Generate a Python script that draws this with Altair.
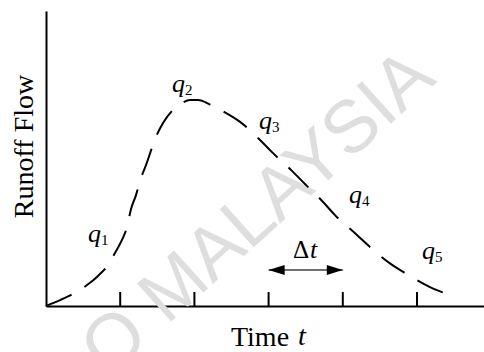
import altair as alt
import pandas as pd

# Hydrograph ordinates: time in units of the interval Δt, flow as % of axis height
time_vals = [0.0, 0.189, 0.364, 0.553, 0.701, 0.836, 0.943, 1.024, 1.092, 1.146,
             1.213, 1.267, 1.348, 1.482, 1.577, 1.698, 1.833, 1.941, 2.049, 2.224,
             2.399, 2.615, 2.871, 3.032, 3.315, 3.477, 3.747, 3.895, 4.191, 4.353,
             4.650, 4.838, 5.175, 5.377, 5.526]
flow_vals = [0.0, 2.0, 4.1, 7.1, 10.2, 13.9, 18.6, 22.4, 26.8, 32.9,
             37.6, 42.4, 47.8, 57.3, 62.0, 66.1, 68.8, 69.8, 69.8, 68.1,
             65.8, 62.4, 56.6, 52.5, 45.8, 41.7, 34.9, 30.8, 24.1, 20.3,
             14.2, 11.2, 6.4, 4.4, 3.6]

# Time steps marked on the axis
tick_times = [1, 2, 3, 4, 5]

# Ordinate labels q1..q5 and where they sit
q_index = ["1", "2", "3", "4", "5"]
q_time = [0.566, 1.698, 2.871, 4.084, 5.067]
q_flow = [21.7, 72.5, 60.0, 34.9, 15.9]

# Δt interval between two ticks
dt_start, dt_end, dt_level = 3, 4, 12.2

X_DOMAIN = [0, 5.903]
Y_DOMAIN = [0, 100]
SERIF = "Liberation Serif"

curve_df = pd.DataFrame({"t": time_vals, "q": flow_vals})
tick_df = pd.DataFrame({"t": tick_times, "lo": 0.0, "hi": 4.75})
lab_df = pd.DataFrame({"t": q_time, "q": q_flow, "name": ["q"] * 5, "sub": q_index})

xs = alt.Scale(domain=X_DOMAIN, nice=False, zero=False)
ys = alt.Scale(domain=Y_DOMAIN, nice=False, zero=False)

x_axis = alt.Axis(domain=True, domainColor="black", domainWidth=2, ticks=False,
                  labels=False, grid=False, title="Time", titleFont=SERIF,
                  titleFontSize=28, titleFontWeight="normal", titleColor="black",
                  titleX=213.5, titleY=39, titleBaseline="alphabetic")
y_axis = alt.Axis(domain=True, domainColor="black", domainWidth=2, ticks=False,
                  labels=False, grid=False, title="Runoff Flow", titleFont=SERIF,
                  titleFontSize=28, titleFontWeight="normal", titleColor="black",
                  titleX=-21.5, titleY=135, titleBaseline="middle", titleAngle=270)

base = alt.Chart(curve_df)

# faint diagonal watermark behind the drawing
watermark = alt.Chart(pd.DataFrame({"t": [2.864], "q": [31.4], "w": ["O MALAYSIA"]})).mark_text(
    font="Liberation Sans", fontSize=74, color="#dedede",
    angle=318, align="center", baseline="middle"
).encode(x=alt.X("t:Q", scale=xs, axis=x_axis), y=alt.Y("q:Q", scale=ys, axis=y_axis), text="w:N")

curve = base.mark_line(color="black", strokeWidth=2, strokeDash=[28, 15],
                       interpolate="monotone", strokeCap="butt").encode(
    x=alt.X("t:Q", scale=xs, axis=x_axis), y=alt.Y("q:Q", scale=ys, axis=y_axis))

ticks = alt.Chart(tick_df).mark_rule(color="black", strokeWidth=2).encode(
    x=alt.X("t:Q", scale=xs), y=alt.Y("lo:Q", scale=ys), y2="hi:Q")

q_text = alt.Chart(lab_df).mark_text(font=SERIF, fontSize=26, fontStyle="italic",
                                     align="left", baseline="alphabetic", color="black").encode(
    x=alt.X("t:Q", scale=xs), y=alt.Y("q:Q", scale=ys), text="name:N")
q_sub = alt.Chart(lab_df).mark_text(font=SERIF, fontSize=15, align="left",
                                    baseline="alphabetic", dx=13, dy=3, color="black").encode(
    x=alt.X("t:Q", scale=xs), y=alt.Y("q:Q", scale=ys), text="sub:N")

shaft = alt.Chart(pd.DataFrame({"a": [dt_start], "b": [dt_end], "y": [dt_level]})).mark_rule(
    color="#707070", strokeWidth=2).encode(
    x=alt.X("a:Q", scale=xs), x2="b:Q", y=alt.Y("y:Q", scale=ys))

head_df = pd.DataFrame({"t": [dt_start, dt_end], "y": [dt_level, dt_level],
                        "side": ["left", "right"]})
heads = alt.Chart(head_df).mark_point(filled=True, size=256, opacity=1, strokeWidth=0,
                                      color="black").encode(
    x=alt.X("t:Q", scale=xs), y=alt.Y("y:Q", scale=ys),
    shape=alt.Shape("side:N", scale=alt.Scale(
        domain=["left", "right"],
        range=["M0,0L2,-0.62L2,0.62Z", "M0,0L-2,-0.62L-2,0.62Z"]), legend=None))

delta = alt.Chart(pd.DataFrame({"t": [3.329], "y": [16.3], "s": ["Δ"]})).mark_text(
    font=SERIF, fontSize=25, align="left", baseline="alphabetic", color="black").encode(
    x=alt.X("t:Q", scale=xs), y=alt.Y("y:Q", scale=ys), text="s:N")
delta_t = alt.Chart(pd.DataFrame({"t": [3.558], "y": [16.3], "s": ["t"]})).mark_text(
    font=SERIF, fontSize=26, fontStyle="italic", align="left", baseline="alphabetic",
    color="black").encode(
    x=alt.X("t:Q", scale=xs), y=alt.Y("y:Q", scale=ys), text="s:N")

# italic t that follows the x axis title
time_t = alt.Chart(pd.DataFrame({"t": [3.396], "y": [-13.2], "s": ["t"]})).mark_text(
    font=SERIF, fontSize=28, fontStyle="italic", align="left", baseline="alphabetic",
    color="black").encode(
    x=alt.X("t:Q", scale=xs), y=alt.Y("y:Q", scale=ys), text="s:N")

chart = alt.layer(watermark, curve, ticks, shaft, heads, q_text, q_sub, delta, delta_t, time_t).properties(
    width=438, height=295,
    padding={"left": 46, "top": 11, "right": 0, "bottom": 46},
    autosize=alt.AutoSizeParams(type="none"),
    background="white",
).configure_view(stroke=None)

chart.save("out.html", embed_options={"renderer": "svg", "actions": False})
